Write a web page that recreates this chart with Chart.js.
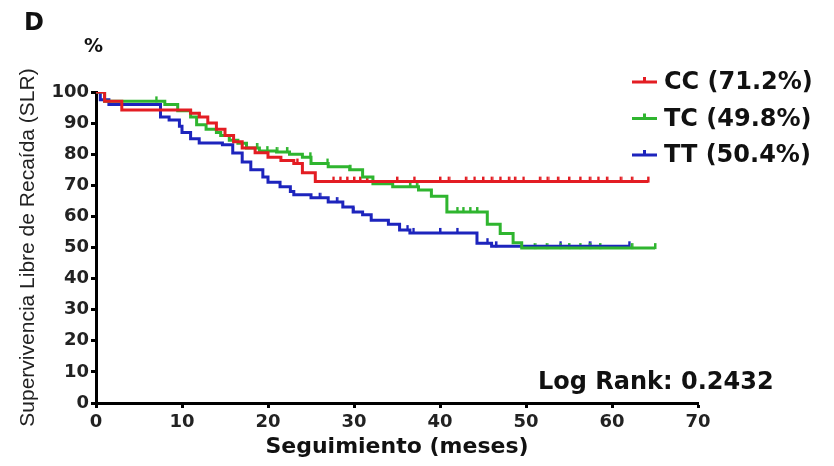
<!DOCTYPE html>
<html lang="es">
<head>
<meta charset="UTF-8">
<title>Supervivencia Libre de Recaida</title>
<script src="https://cdn.jsdelivr.net/npm/chart.js@4.4.0/dist/chart.umd.min.js"></script>
<style>
  html, body { margin: 0; padding: 0; background: #fff; }
  #wrap { width: 834px; height: 466px; }
</style>
</head>
<body>
<div id="wrap"><canvas id="km" width="834" height="466"></canvas></div>
<script>
// Kaplan-Meier steps (months, % survival)
const ccTime = [0, 1, 3, 11, 12, 13, 14, 15, 16, 17, 18.5, 20, 21.5, 23, 24, 25.5, 64.2];
const ccSurv = [100, 97, 94.2, 93.2, 92, 90, 88, 86, 84, 82, 80.5, 79, 78, 77, 74, 71.2, 71.2];
const tcTime = [0, 1, 8, 9.5, 11, 11.7, 12.8, 14, 14.5, 15.5, 16.5, 17.5, 19, 21, 22.5, 24, 25, 27, 29.5, 31, 32.2, 34.5, 37.5, 39, 40.8, 45.5, 47, 48.5, 49.5, 65];
const tcSurv = [100, 97, 96, 94, 92, 89.5, 88, 87, 86, 84.5, 83.5, 82, 81, 80.7, 80, 79, 77, 76, 75, 72.7, 70.5, 69.5, 68.5, 66.5, 61.4, 57.5, 54.5, 51.5, 49.8, 49.8];
const ttTime = [0, 0.5, 1.5, 7.5, 8.5, 9.7, 10, 11, 12, 14.7, 15.9, 17, 18, 19.4, 20, 21.4, 22.6, 23, 25, 27, 28.7, 29.9, 31, 32, 34, 35.3, 36.5, 44.3, 46, 62];
const ttSurv = [100, 97.5, 96, 92, 91, 89, 87, 85, 83.6, 83, 80.4, 77.5, 75, 72.7, 71, 69.5, 68, 67, 66, 64.6, 63, 61.4, 60.5, 58.8, 57.5, 55.6, 54.7, 51.4, 50.4, 50.4];

// censored observations (months)
const ccCens = [12, 23.4, 27.6, 28.4, 29.2, 30, 30.7, 31.5, 35, 37, 40, 41, 43, 44, 45, 46, 47, 48, 48.7, 49.7, 51.6, 52.5, 53.7, 55, 56.3, 57.4, 58.4, 59.4, 61, 62.3, 64.2];
const tcCens = [7, 18.7, 19.9, 21, 22.2, 24.9, 26.9, 29.5, 36.5, 37.3, 42, 42.7, 43.5, 44.3, 51, 52.4, 54, 55, 56.3, 57.4, 58.6, 62.3, 65];
const ttCens = [26, 28, 29.9, 36.2, 36.9, 40, 42, 45.5, 46.5, 54, 57.4, 62];

const groups = ['CC (71.2%)', 'TC (49.8%)', 'TT (50.4%)'];
const colors = ['#e31d23', '#2fb52f', '#1d24bd'];
const xTicks = [0, 10, 20, 30, 40, 50, 60, 70];
const yTicks = [0, 10, 20, 30, 40, 50, 60, 70, 80, 90, 100];
const logRank = 'Log Rank: 0.2432';

const steps = (t, s) => t.map((x, i) => ({ x: x, y: s[i] }));
const survAt = (t, s, x) => {
  let v = s[0];
  for (let i = 0; i < t.length; i++) if (t[i] <= x) v = s[i];
  return v;
};
const cens = (c, t, s) => c.map(x => ({ x: x, y: survAt(t, s, x) }));

// little upward tick used as censor mark
function tickMark(color) {
  const c = document.createElement('canvas');
  c.width = 4; c.height = 12;
  const g = c.getContext('2d');
  g.fillStyle = color;
  g.fillRect(1, 1, 2.5, 6);
  return c;
}

const stepSet = (i, data) => ({
  label: groups[i], data: data, stepped: true, borderColor: colors[i],
  borderWidth: 3, pointRadius: 0, fill: false
});
const censSet = (i, data) => ({
  label: groups[i] + ' cens', data: data, showLine: false, borderColor: colors[i],
  backgroundColor: colors[i], pointStyle: tickMark(colors[i]), pointRadius: 4
});

const bold = 'bold 24px "DejaVu Sans"';

const extras = {
  id: 'extras',
  afterDraw(chart) {
    const ctx = chart.ctx;
    ctx.save();
    ctx.fillStyle = '#111';
    ctx.textBaseline = 'middle';
    ctx.textAlign = 'left';
    ctx.font = bold;
    ctx.fillText('D', 24, 24);
    ctx.font = 'bold 19px "DejaVu Sans"';
    ctx.fillText('%', 84, 47);
    // legend
    ctx.font = bold;
    groups.forEach((g, i) => {
      const y = 82 + i * 36.5;
      ctx.strokeStyle = colors[i];
      ctx.lineWidth = 3;
      ctx.beginPath();
      ctx.moveTo(632, y); ctx.lineTo(657, y);
      ctx.moveTo(644.5, y); ctx.lineTo(644.5, y - 5);
      ctx.stroke();
      ctx.fillStyle = '#111';
      ctx.fillText(g, 664, y + 1);
    });
    ctx.fillText(logRank, 538, 383);
    ctx.restore();
  }
};

new Chart(document.getElementById('km'), {
  type: 'line',
  data: {
    datasets: [
      stepSet(0, steps(ccTime, ccSurv)),
      stepSet(1, steps(tcTime, tcSurv)),
      stepSet(2, steps(ttTime, ttSurv)),
      censSet(0, cens(ccCens, ccTime, ccSurv)),
      censSet(1, cens(tcCens, tcTime, tcSurv)),
      censSet(2, cens(ttCens, ttTime, ttSurv))
    ]
  },
  options: {
    responsive: false,
    animation: false,
    layout: { padding: { left: 0, right: 136, top: 92, bottom: 0 } },
    plugins: { legend: { display: false }, tooltip: { enabled: false } },
    scales: {
      x: {
        type: 'linear', min: 0, max: 70,
        afterBuildTicks: s => { s.ticks = xTicks.map(v => ({ value: v })); },
        afterFit: s => { s.height = 63; },
        border: { display: true, color: '#000', width: 3 },
        grid: { drawOnChartArea: false, drawTicks: true, tickLength: 5, tickWidth: 3, color: '#000' },
        ticks: { color: '#222', padding: 4, maxRotation: 0, font: { family: 'DejaVu Sans', size: 18, weight: 'bold' } },
        title: {
          display: true, text: 'Seguimiento (meses)', color: '#111',
          font: { family: 'DejaVu Sans', size: 22, weight: 'bold' }, padding: { top: 0, bottom: 6 }
        }
      },
      y: {
        min: 0, max: 100,
        afterBuildTicks: s => { s.ticks = yTicks.map(v => ({ value: v })); },
        afterFit: s => { s.width = 96; },
        border: { display: true, color: '#000', width: 3 },
        grid: { drawOnChartArea: false, drawTicks: true, tickLength: 5, tickWidth: 3, color: '#000' },
        ticks: { color: '#222', padding: 2, font: { family: 'DejaVu Sans', size: 18, weight: 'bold' } },
        title: {
          display: true, text: 'Supervivencia Libre de Recaída (SLR)', color: '#222',
          font: { family: 'Liberation Sans', size: 21 }, padding: { top: 16, bottom: 0 }
        }
      }
    }
  },
  plugins: [extras]
});
</script>
</body>
</html>
